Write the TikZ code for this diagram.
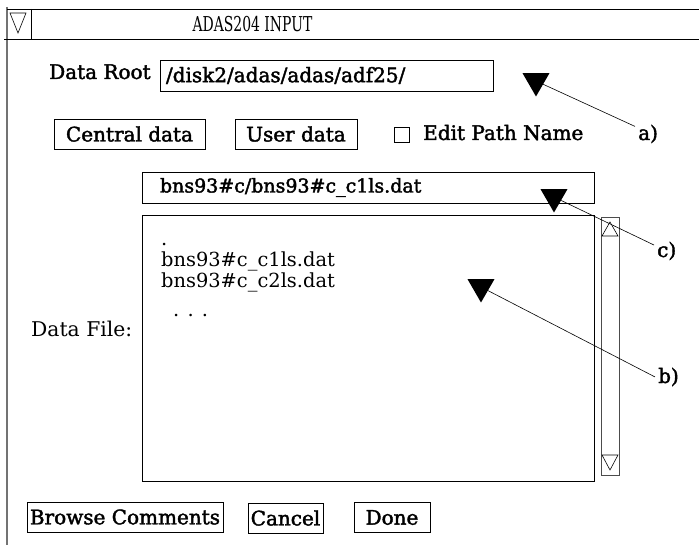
\documentclass[tikz,border=0pt]{standalone}
\usepackage{fontspec}
\usepackage{graphicx}
\usepackage{tikz}
\usetikzlibrary{shapes.geometric}
\setmainfont{DejaVu Serif}
\newfontfamily\guifont{DejaVu Serif}[FakeBold=2]

\begin{document}
\begin{tikzpicture}[
  x=1pt,y=-1pt,
  btn/.style={
    draw,
    line width=0.9pt,
    font=\guifont\fontsize{20}{24}\selectfont,
    inner sep=0pt,
    minimum height=30pt
  },
  field/.style={
    draw,
    line width=0.9pt,
    font=\guifont\fontsize{20}{24}\selectfont,
    inner ysep=0pt,
    align=left,
    minimum height=31pt
  },
  lbl/.style={
    font=\guifont\fontsize{20}{24}\selectfont,
    inner sep=0pt
  },
  plain/.style={
    font=\fontsize{19.4}{21}\selectfont,
    inner sep=0pt
  },
  ptr/.style={
    regular polygon,
    regular polygon sides=3,
    shape border rotate=180,
    fill=black,
    inner sep=0pt,
    minimum size=31pt
  }
]
\useasboundingbox (0,0) rectangle (699,545);
\draw[black!55,line width=1.5pt] (7,7) -- (7,545);
\draw[line width=0.8pt] (7,9) -- (699,9);
\draw[line width=0.8pt] (4,39) -- (699,39);
\draw[line width=0.8pt] (31,9) -- (31,39);
\draw[line width=0.6pt] (10,13) -- (26,13) -- (18,33) -- cycle;
\node[font=\fontsize{20.5}{24}\selectfont] (title) at (252.5,24.5) {\scalebox{0.68}[1]{ADAS204 INPUT}};

\node[lbl,anchor=base west] (rootlbl) at (49,79) {Data Root};
\node[field,text width=321pt,inner xsep=6pt] (rootbox) at (326.5,75.5) {/disk2/adas/adas/adf25/};

\node[btn,minimum width=151pt] (central) at (129.5,134) {Central data};
\node[btn,minimum width=122pt] (user) at (296,134) {User data};
\node[draw,line width=0.7pt,minimum size=15pt,inner sep=0pt] (edit) at (402,135) {};
\node[lbl,anchor=base west] (editlbl) at (423,140) {Edit Path Name};

\node[field,text width=416pt,inner xsep=18pt,font=\guifont\fontsize{19}{23}\selectfont] (filebox) at (368,187.5) {bns93\#c/bns93\#c\_c1ls.dat};
\node[draw,line width=0.9pt,minimum width=452pt,minimum height=266pt,inner sep=0pt] (listbox) at (368,348) {};
\node[plain,anchor=base west] (dotline) at (161,246) {.};
\node[plain,anchor=base west] (file1) at (161,267) {bns93\#c\_c1ls.dat};
\node[plain,anchor=base west] (file2) at (161,288) {bns93\#c\_c2ls.dat};
\node[plain,anchor=base west] (more) at (173,317) {. . .};
\node[plain,anchor=base west,font=\fontsize{20.3}{24}\selectfont] (filelbl) at (31,337) {Data File:};

\draw[black!70,line width=0.9pt] (601,217) rectangle (619,475);
\draw[line width=0.6pt] (602,236) -- (618,236) -- (610,222) -- cycle;
\draw[line width=0.6pt] (602,455) -- (618,455) -- (610,470) -- cycle;

\node[btn,minimum width=196pt] (browse) at (125,517) {Browse Comments};
\node[btn,minimum width=75pt] (cancel) at (285.5,518) {Cancel};
\node[btn,minimum width=76pt] (done) at (392,517.5) {Done};

\node[ptr] (ptra) at (536,81) {};
\node[ptr] (ptrc) at (554,197) {};
\node[ptr] (ptrb) at (481,287) {};
\node[lbl,inner sep=3pt,anchor=base west] (la) at (635,140) {a)};
\node[lbl,inner sep=3pt,anchor=base west] (lc) at (654,257) {c)};
\node[lbl,inner sep=3pt,anchor=base west] (lb) at (655,383) {b)};
\draw[line width=0.6pt] (la.150) -- (ptra);
\draw[line width=0.6pt] (lc.155) -- (ptrc);
\draw[line width=0.6pt] (lb.west) -- (ptrb);
\end{tikzpicture}
\end{document}
